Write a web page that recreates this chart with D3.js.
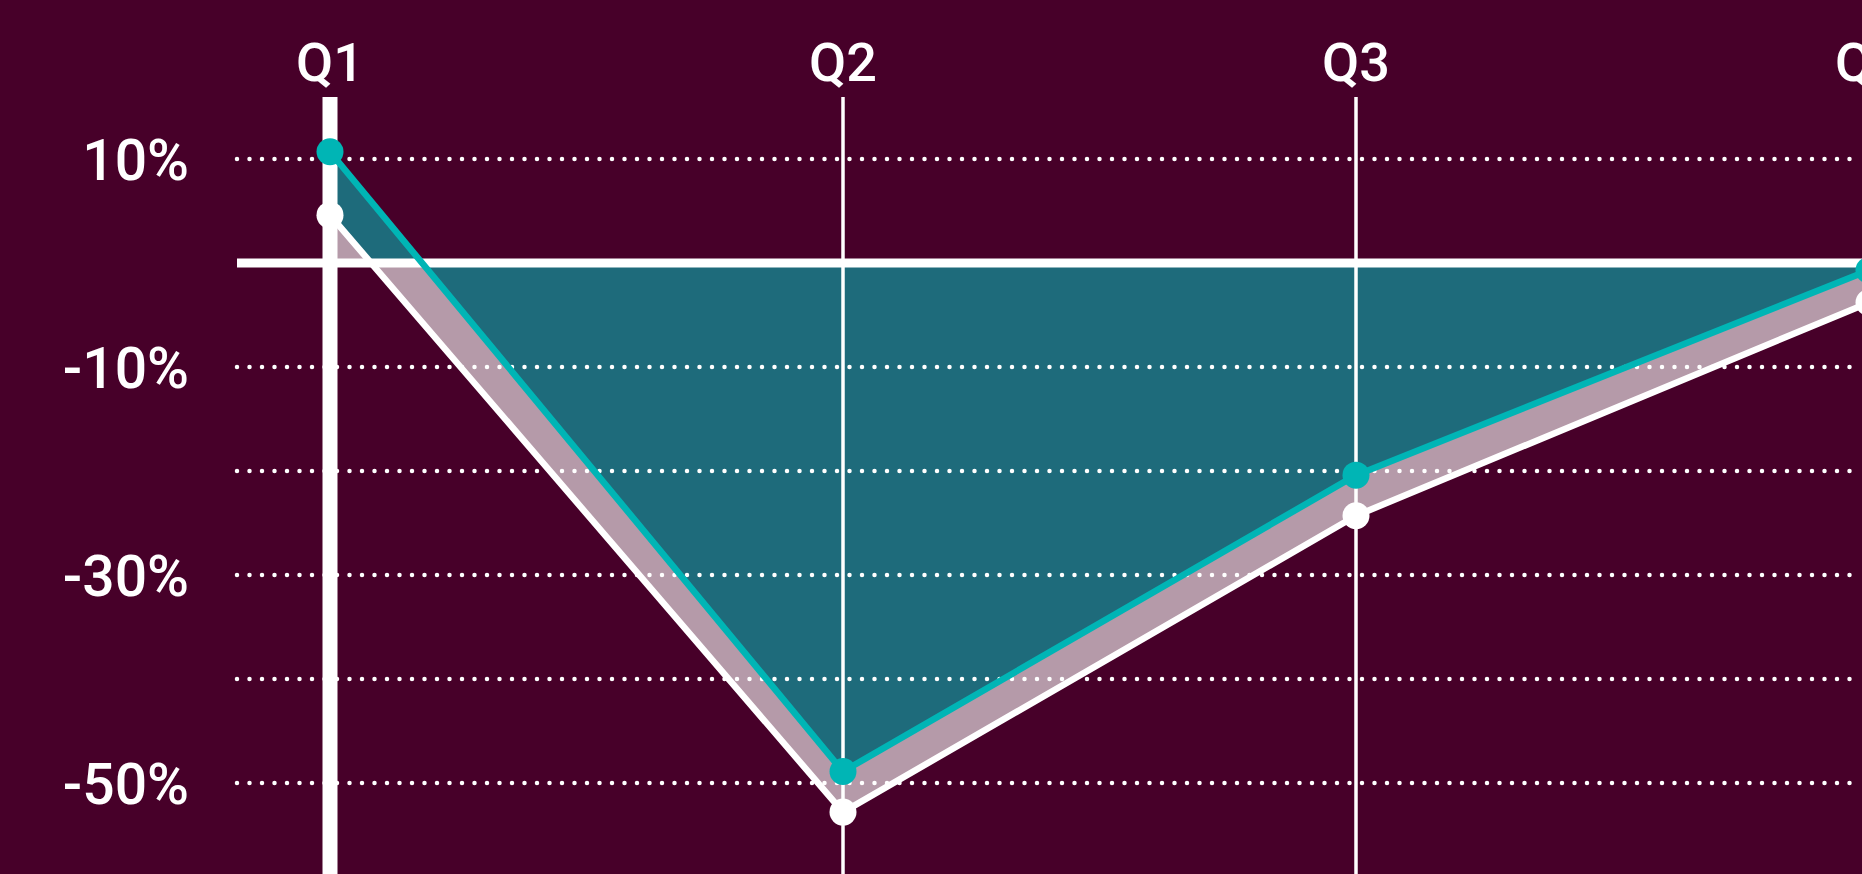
<!DOCTYPE html>
<html lang="en">
<head>
    <meta charset="UTF-8">
    <title>Quarterly change</title>
    <script type="text/javascript" src="https://cdn.jsdelivr.net/npm/d3@7/dist/d3.min.js"></script>
    <style>
        body { margin: 0; background: #470029; overflow: hidden; }
        text { font-family: Roboto, "Open Sans", sans-serif; font-weight: 500; fill: #ffffff; }
    </style>
</head>
<body>
<script type="text/javascript">
    let width = 1862, height = 874;

    // data (percent)
    let quarters = ['Q1', 'Q2', 'Q3', 'Q4'];
    let tealValues = [10.7, -48.9, -20.4, -0.7];
    let whiteValues = [4.6, -52.8, -24.3, -3.8];
    let gridTicks = [10, -10, -20, -30, -40, -50];
    let labelTicks = [10, -10, -30, -50];

    let svg = d3.select('body').append('svg')
        .attr('width', width)
        .attr('height', height);

    svg.append('rect')
        .attr('width', width)
        .attr('height', height)
        .attr('fill', '#470029');

    // scales
    let x = d3.scalePoint().domain(quarters).range([330, 1869]);
    let y = d3.scaleLinear().domain([-50, 10]).range([783, 159]);
    let gridLeft = 237;

    // clip regions above / below zero
    let defs = svg.append('defs');
    defs.append('clipPath').attr('id', 'above')
        .append('rect')
        .attr('x', 0).attr('y', 0)
        .attr('width', width).attr('height', y(0));
    defs.append('clipPath').attr('id', 'below')
        .append('rect')
        .attr('x', 0).attr('y', y(0))
        .attr('width', width).attr('height', height - y(0));

    let area = d3.area()
        .x(function (d, i) { return x(quarters[i]); })
        .y0(y(0))
        .y1(function (d) { return y(d); });

    let tealFill = '#1e6b7b', pinkFill = '#b59aa9';

    // the area nearer to zero is drawn on top on each side
    let up = svg.append('g').attr('clip-path', 'url(#above)');
    up.append('path').attr('d', area(tealValues)).attr('fill', tealFill);
    up.append('path').attr('d', area(whiteValues)).attr('fill', pinkFill);

    let down = svg.append('g').attr('clip-path', 'url(#below)');
    down.append('path').attr('d', area(whiteValues)).attr('fill', pinkFill);
    down.append('path').attr('d', area(tealValues)).attr('fill', tealFill);

    // dotted gridlines
    svg.append('g').selectAll('line')
        .data(gridTicks)
        .enter()
        .append('line')
        .attr('x1', gridLeft)
        .attr('x2', width)
        .attr('y1', function (d) { return y(d); })
        .attr('y2', function (d) { return y(d); })
        .attr('stroke', '#ffffff')
        .attr('stroke-width', 4.5)
        .attr('stroke-linecap', 'round')
        .attr('stroke-dasharray', '0 12.5');

    // y labels
    svg.append('g').selectAll('text')
        .data(labelTicks)
        .enter()
        .append('text')
        .attr('x', 189)
        .attr('y', function (d) { return y(d) + 21; })
        .attr('text-anchor', 'end')
        .attr('font-size', 57)
        .text(function (d) { return d + '%'; });

    // vertical quarter lines, the first one is the heavy axis
    svg.append('g').selectAll('line')
        .data(quarters)
        .enter()
        .append('line')
        .attr('x1', function (d) { return x(d); })
        .attr('x2', function (d) { return x(d); })
        .attr('y1', 97)
        .attr('y2', height)
        .attr('stroke', '#ffffff')
        .attr('stroke-width', function (d, i) { return i === 0 ? 15 : 3.5; });

    // quarter labels
    svg.append('g').selectAll('text')
        .data(quarters)
        .enter()
        .append('text')
        .attr('x', function (d) { return x(d); })
        .attr('y', 81)
        .attr('text-anchor', 'middle')
        .attr('font-size', 54)
        .text(function (d) { return d; });

    // zero line
    svg.append('line')
        .attr('x1', gridLeft)
        .attr('x2', width)
        .attr('y1', y(0))
        .attr('y2', y(0))
        .attr('stroke', '#ffffff')
        .attr('stroke-width', 9);

    let line = d3.line()
        .x(function (d, i) { return x(quarters[i]); })
        .y(function (d) { return y(d); });

    let series = [
        {values: whiteValues, color: '#ffffff'},
        {values: tealValues, color: '#00b5b5'}
    ];

    series.forEach(function (s) {
        svg.append('path')
            .attr('d', line(s.values))
            .attr('fill', 'none')
            .attr('stroke', s.color)
            .attr('stroke-width', 6.5)
            .attr('stroke-linejoin', 'round');

        svg.append('g').selectAll('circle')
            .data(s.values)
            .enter()
            .append('circle')
            .attr('cx', function (d, i) { return x(quarters[i]); })
            .attr('cy', function (d) { return y(d); })
            .attr('r', 13.5)
            .attr('fill', s.color);
    });
</script>
</body>
</html>
